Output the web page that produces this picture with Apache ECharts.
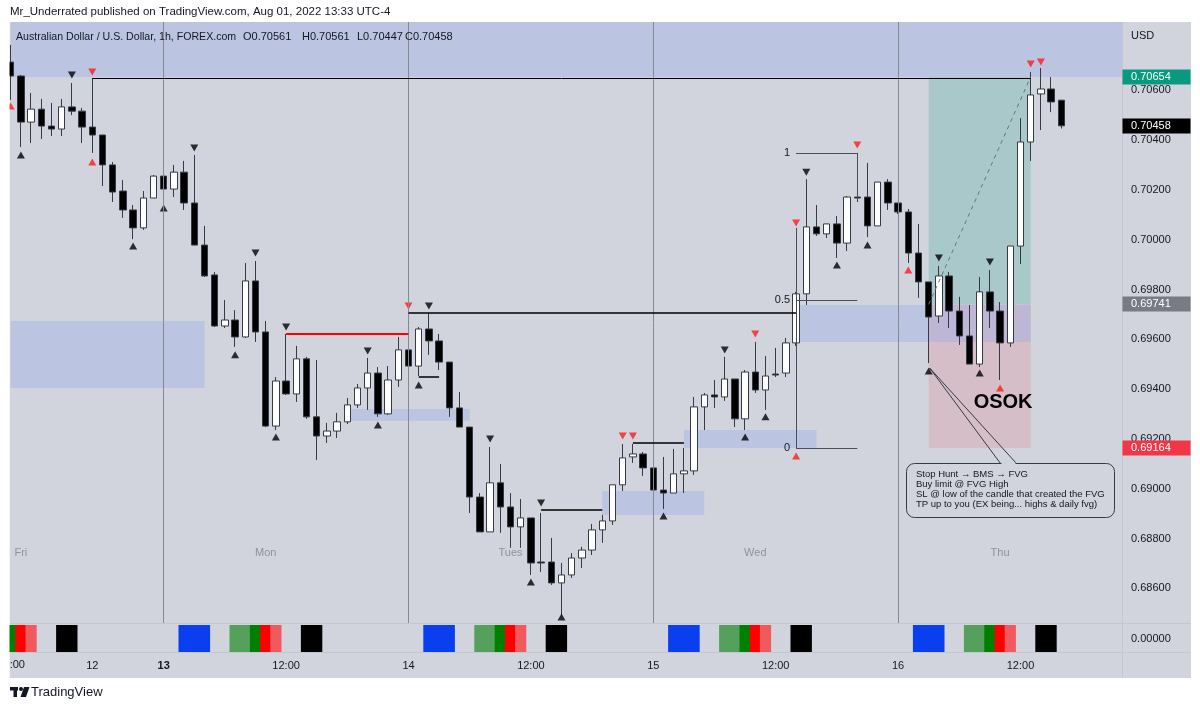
<!DOCTYPE html>
<html><head><meta charset="utf-8">
<script src="https://cdn.jsdelivr.net/npm/echarts@6/dist/echarts.min.js"></script>
<style>html,body{margin:0;padding:0;background:#fff}#c{width:1200px;height:708px}</style>
</head><body><div id="c"></div><script>
// ---------- DATA ----------
const opens = [0.70714,0.70658,0.70473,0.70525,0.70457,0.70445,0.70534,0.70517,0.70453,0.70421,
0.70301,0.70196,0.70120,0.70048,0.70168,0.70256,0.70204,0.70272,0.70148,0.69979,
0.69859,0.69654,0.69678,0.69610,0.69835,0.69630,0.69252,0.69433,0.69381,0.69522,
0.69289,0.69212,0.69232,0.69269,0.69337,0.69405,0.69465,0.69301,0.69437,0.69558,
0.69493,0.69642,0.69594,0.69509,0.69325,0.69248,0.68967,0.68827,0.69024,0.68927,
0.68847,0.68883,0.68706,0.68706,0.68622,0.68654,0.68722,0.68754,0.68835,0.68871,
0.69016,0.69128,0.69140,0.69084,0.68995,0.68983,0.69060,0.69072,0.69329,0.69377,
0.69369,0.69441,0.69281,0.69469,0.69397,0.69461,0.69465,0.69586,0.69783,0.70052,
0.70024,0.70064,0.69987,0.70172,0.70172,0.70056,0.70232,0.70148,0.70112,0.69947,
0.69831,0.69694,0.69855,0.69714,0.69614,0.69501,0.69791,0.69714,0.69586,0.69975,
0.70393,0.70586,0.70606,0.70561];
const highs = [0.70783,0.70662,0.70590,0.70566,0.70550,0.70566,0.70630,0.70530,0.70650,0.70421,
0.70313,0.70240,0.70140,0.70196,0.70260,0.70272,0.70301,0.70317,0.70341,0.70056,
0.69871,0.69758,0.69718,0.69907,0.69915,0.69674,0.69449,0.69622,0.69574,0.69530,
0.69517,0.69265,0.69305,0.69365,0.69421,0.69526,0.69489,0.69493,0.69610,0.69694,
0.69650,0.69706,0.69622,0.69509,0.69389,0.69248,0.68983,0.69168,0.69100,0.68983,
0.68959,0.68883,0.68903,0.68803,0.68702,0.68742,0.68767,0.68859,0.68895,0.69016,
0.69180,0.69180,0.69148,0.69084,0.69128,0.69160,0.69164,0.69369,0.69385,0.69437,
0.69530,0.69441,0.69477,0.69590,0.69533,0.69566,0.69606,0.69791,0.70244,0.70140,
0.70064,0.70096,0.70176,0.70349,0.70309,0.70232,0.70244,0.70148,0.70124,0.70064,
0.69831,0.69895,0.69871,0.69771,0.69738,0.69851,0.69879,0.69750,0.69975,0.70489,
0.70674,0.70690,0.70654,0.70561];
const lows = [0.70562,0.70373,0.70389,0.70405,0.70417,0.70417,0.70501,0.70389,0.70349,0.70216,
0.70152,0.70088,0.70003,0.70040,0.70168,0.70160,0.70172,0.70120,0.69979,0.69851,
0.69650,0.69646,0.69570,0.69606,0.69590,0.69248,0.69236,0.69377,0.69349,0.69281,
0.69116,0.69184,0.69204,0.69260,0.69325,0.69317,0.69289,0.69297,0.69409,0.69465,
0.69453,0.69538,0.69477,0.69289,0.69248,0.68903,0.68827,0.68827,0.68823,0.68763,
0.68763,0.68654,0.68666,0.68614,0.68493,0.68642,0.68682,0.68734,0.68783,0.68855,
0.68991,0.69104,0.69052,0.68943,0.68919,0.68983,0.68983,0.69056,0.69236,0.69325,
0.69353,0.69248,0.69236,0.69385,0.69317,0.69449,0.69449,0.69574,0.69738,0.70016,
0.70007,0.69927,0.69955,0.70152,0.70011,0.70056,0.70120,0.70104,0.69907,0.69767,
0.69505,0.69666,0.69646,0.69578,0.69501,0.69489,0.69646,0.69437,0.69570,0.69903,
0.70317,0.70441,0.70513,0.70447];
const closes = [0.70658,0.70473,0.70525,0.70457,0.70445,0.70534,0.70517,0.70453,0.70421,0.70301,
0.70192,0.70120,0.70048,0.70168,0.70256,0.70204,0.70272,0.70148,0.69979,0.69855,
0.69654,0.69678,0.69610,0.69835,0.69630,0.69252,0.69433,0.69381,0.69522,0.69289,
0.69212,0.69232,0.69269,0.69337,0.69405,0.69465,0.69301,0.69437,0.69558,0.69493,
0.69642,0.69594,0.69509,0.69325,0.69248,0.68967,0.68827,0.69024,0.68927,0.68847,
0.68883,0.68702,0.68702,0.68622,0.68654,0.68722,0.68754,0.68835,0.68871,0.69016,
0.69124,0.69140,0.69084,0.68995,0.68983,0.69060,0.69072,0.69329,0.69377,0.69369,
0.69441,0.69281,0.69469,0.69397,0.69453,0.69457,0.69586,0.69783,0.70052,0.70024,
0.70064,0.69987,0.70172,0.70168,0.70056,0.70232,0.70148,0.70112,0.69947,0.69831,
0.69690,0.69855,0.69714,0.69614,0.69501,0.69791,0.69714,0.69586,0.69975,0.70393,
0.70582,0.70606,0.70554,0.70458];

// session strip codes per bar: 0 none,1 blue,2 light green,3 green,4 red,5 light red,6 black
const sessionCodes = [3,4,5,0,0,6,6,0,0,0,0,0,0,0,0,0,0,1,1,1,0,0,2,2,3,4,5,0,0,6,6,
0,0,0,0,0,0,0,0,0,0,1,1,1,0,0,2,2,3,4,5,0,0,6,6,
0,0,0,0,0,0,0,0,0,0,1,1,1,0,0,2,2,3,4,5,0,0,6,6,
0,0,0,0,0,0,0,0,0,0,1,1,1,0,0,2,2,3,4,5,0,0,6,6,0];

// pivot triangles [barIndex, price]
const blackUp = [[1,0.70341],[12,0.69975],[15,0.70128],[22,0.69538],[26,0.69208],[36,0.69256],[40,0.69417],[51,0.68626],[54,0.68485],[64,0.68891],[72,0.69208],[74,0.69289],[81,0.69899],[84,0.69979],[90,0.69473],[95,0.69465]];
const blackDown = [[6,0.70662],[18,0.70369],[24,0.69947],[27,0.69650],[35,0.69554],[41,0.69734],[47,0.69200],[52,0.68943],[70,0.69558],[78,0.70272],[91,0.69927],[96,0.69911]];
const redUp = [[0,0.70538],[8,0.70313],[77,0.69132],[88,0.69879],[97,0.69405]];
const redDown = [[8,0.70674],[39,0.69734],[60,0.69212],[61,0.69212],[73,0.69622],[77,0.70068],[83,0.70381],[100,0.70706],[101,0.70714]];

// tick labels
const priceTicks = [0.686,0.688,0.690,0.692,0.694,0.696,0.698,0.700,0.702,0.704,0.706];
const timeLabelIdx = [8,15,27,39,51,63,75,87,99];
const timeLabelText = ['12','13','12:00','14','12:00','15','12:00','16','12:00'];
const boldTimeIdx = [15];
const dayLineIdx = [15,39,63,87];
const sessionNameIdx = [1,25,49,73,97];
const sessionNames = ['Fri','Mon','Tues','Wed','Thu'];

// drawings in data units: [fromBar, toBar, priceA, priceB]
const fvgZones = [[0,19,0.69674,0.69405],[33,45,0.69321,0.69273],[58,68,0.68991,0.68895],[66,79,0.69236,0.69164],[77,100,0.69738,0.69590]];
const supplyBand = [0.70654, 0.70875];
const position = {from:90, to:100, entry:0.69741, target:0.70654, stop:0.69164};
const structureLines = [[8,100,0.70650],[39,77,0.69706],[40,42,0.69449],[52,58,0.68915],[61,66,0.69184]];
const redLine = [27,39,0.69622];
const fib = {from:77, to:83, levels:[1,0.5,0], p1:0.70349, p0:0.69164};
const lastPrice = 0.70458;
const header = {sym:'Australian Dollar / U.S. Dollar, 1h, FOREX.com', o:'O0.70561', h:'H0.70561', l:'L0.70447', c:'C0.70458'};

// ---------- CHART ----------
const chart = echarts.init(document.getElementById('c'), null, {renderer:'canvas', width:1200, height:708});
const FONT = '"Liberation Sans", Arial, sans-serif';
const TXT = '#131722';
const BG = '#d1d4dc';
const GL = 10.7, GT = 22, GW = 1111.8, GH = 601, IT = 625, IH = 27;
const Y_MIN = 0.68461, Y_MAX = 0.70875;
const slots = Array.from({length:110}, (_, i) => String(i));
const sessionColors = ['', '#0a3ff0', '#55a05a', '#008000', '#ff0000', '#f05a5f', '#000000'];
const BLUE = 'rgba(140,165,240,0.32)';

const areas = [];
areas.push([{xAxis:position.from, yAxis:position.target, itemStyle:{color:'rgba(8,153,129,0.2)'}},{xAxis:position.to, yAxis:position.entry}]);
areas.push([{xAxis:position.from, yAxis:position.entry, itemStyle:{color:'rgba(242,54,69,0.14)'}},{xAxis:position.to, yAxis:position.stop}]);
areas.push([{yAxis:supplyBand[0], itemStyle:{color:BLUE}},{yAxis:supplyBand[1]}]);
fvgZones.forEach(z => areas.push([{xAxis:z[0], yAxis:z[2], itemStyle:{color:BLUE}},{xAxis:z[1], yAxis:z[3]}]));

const segs = [];
dayLineIdx.forEach(d => segs.push({xAxis:d, lineStyle:{color:'#868993', width:1, type:'solid'}}));
structureLines.forEach(s => segs.push([{coord:[s[0],s[2]], lineStyle:{color:'#000', width:s[0]===8?1:1.5, type:'solid'}},{coord:[s[1],s[2]]}]));
segs.push([{coord:[redLine[0],redLine[2]], lineStyle:{color:'#ff0000', width:2, type:'solid'}},{coord:[redLine[1],redLine[2]]}]);
const fibPrice = lv => fib.p0 + (fib.p1 - fib.p0) * lv;
fib.levels.forEach(lv => segs.push([{coord:[fib.from,fibPrice(lv)], lineStyle:{color:'#4a4d55', width:1, type:'solid'}},{coord:[fib.to,fibPrice(lv)]}]));
segs.push([{coord:[fib.from,0.70048], lineStyle:{color:'#4a4d55', width:1, type:'solid'}},{coord:[fib.from,fib.p0]}]);
segs.push([{coord:[fib.to,fib.p1], lineStyle:{color:'#4a4d55', width:1, type:'solid'}},{coord:[fib.to,0.70160]}]);
segs.push([{coord:[position.from,position.entry], lineStyle:{color:'#6f727c', width:1, type:[4,4]}},{coord:[position.to,position.target]}]);

const tri = (data, color, rot) => ({type:'scatter', xAxisIndex:0, yAxisIndex:0, symbol:'triangle', symbolSize:[8,7], symbolRotate:rot, data, itemStyle:{color}, z:4, silent:true});

const option = {
  backgroundColor:'#ffffff',
  animation:false,
  grid:[{left:GL, top:GT, width:GW, height:GH},{left:GL, top:IT, width:GW, height:IH}],
  xAxis:[
    {type:'category', gridIndex:0, data:slots, boundaryGap:false, axisLine:{show:false}, axisTick:{show:false}, axisLabel:{show:false}, splitLine:{show:false}},
    {type:'category', gridIndex:1, data:slots, boundaryGap:false, axisLine:{show:false}, axisTick:{show:false}, splitLine:{show:false},
      axisLabel:{interval:(idx)=>timeLabelIdx.indexOf(idx)>=0,
        formatter:(v,idx)=>{const k=timeLabelIdx.indexOf(idx); if(k<0) return ''; const t=timeLabelText[k]; return boldTimeIdx.indexOf(idx)>=0?'{b|'+t+'}':t;},
        color:TXT, fontSize:11, fontFamily:FONT, margin:8,
        rich:{b:{fontWeight:'bold', fontSize:11, fontFamily:FONT, color:TXT}}}}
  ],
  yAxis:[
    {type:'value', gridIndex:0, position:'right', min:Y_MIN, max:Y_MAX, splitLine:{show:false}, axisLine:{show:false}, axisTick:{show:false},
      axisLabel:{customValues:priceTicks, formatter:v=>v.toFixed(5), color:TXT, fontSize:11, fontFamily:FONT, margin:8.5}},
    {type:'value', gridIndex:1, position:'right', min:0, max:1, splitLine:{show:false}, axisLine:{show:false}, axisTick:{show:false},
      axisLabel:{customValues:[0.5], formatter:()=>'0.00000', color:TXT, fontSize:11, fontFamily:FONT, margin:8.5}}
  ],
  series:[
    {type:'candlestick', xAxisIndex:0, yAxisIndex:0, barWidth:7, clip:true,
      data: opens.map((o,i)=>[o, closes[i], lows[i], highs[i]]),
      itemStyle:{color:'#ffffff', color0:'#000000', borderColor:'#363a45', borderColor0:'#363a45', borderWidth:1},
      markArea:{silent:true, data:areas},
      markLine:{silent:true, symbol:['none','none'], label:{show:false}, animation:false, data:segs}},
    tri(blackUp,'#000000',0), tri(blackDown,'#000000',180), tri(redUp,'#ff1a1a',0), tri(redDown,'#ff1a1a',180),
    {type:'bar', xAxisIndex:1, yAxisIndex:1, barWidth:11.2, silent:true,
      data: sessionCodes.map(c => c ? {value:1, itemStyle:{color:sessionColors[c]}} : '-')}
  ]
};
chart.setOption(option);

// ---------- ANNOTATIONS ----------
const px = (i,p) => chart.convertToPixel({xAxisIndex:0, yAxisIndex:0}, [i,p]);
function T(x,y,text,st){return {type:'text', x, y, z:60, silent:true, style:Object.assign({text, font:'11px '+FONT, fill:TXT, align:'left', verticalAlign:'middle', textAlign:'left', textVerticalAlign:'middle'}, st||{})};}
function L(x1,y1,x2,y2,stroke,w,z){return {type:'line', z:z||55, silent:true, shape:{x1,y1,x2,y2}, style:{stroke, lineWidth:w||1}};}
const g = [];
g.push({type:'rect', z:-100, silent:true, shape:{x:9.5, y:22, width:1181.5, height:656}, style:{fill:BG}});
g.push({type:'rect', z:200, silent:true, shape:{x:0, y:22, width:9.5, height:656}, style:{fill:'#ffffff'}});
g.push(L(1122.5,22,1122.5,678,'#c4c7cf',1,1));
g.push(L(9.5,623.5,1191,623.5,'#c4c7cf',1,1));
g.push(L(9.5,652.5,1191,652.5,'#c4c7cf',1,1));
// header
g.push(T(10,12,'Mr_Underrated published on TradingView.com, Aug 01, 2022 13:33 UTC-4',{font:'11.5px '+FONT}));
g.push(T(16,37,header.sym,{font:'10.6px '+FONT}));
g.push(T(243,37,header.o)); g.push(T(302,37,header.h)); g.push(T(357,37,header.l)); g.push(T(405,37,header.c));
g.push(T(1131,36,'USD'));
// session names
sessionNames.forEach((s,k)=>{const p=px(sessionNameIdx[k],0.69); g.push(T(p[0],553,s,{fill:'#8f929b', align:'center', textAlign:'center'}));});
g.push(T(GL-1,665,':00'));
// fib labels
fib.levels.forEach(lv=>{const p=px(fib.from,fibPrice(lv)); g.push(T(p[0]-6,p[1],String(lv),{align:'right', textAlign:'right'}));});
// OSOK
{const p=px(97,0.69345); g.push(T(p[0]+3,p[1],'OSOK',{font:'bold 20px '+FONT, align:'center', textAlign:'center', fill:'#000'}));}
// callout
{
  const a = px(position.from, 0.69473);
  g.push({type:'rect', z:56, silent:true, shape:{x:906.5, y:463.5, width:208, height:54, r:8}, style:{fill:BG, stroke:'#363a45', lineWidth:1}});
  g.push(L(a[0]+1,a[1]-3,1000.5,463.5,'#363a45',1,57));
  g.push(L(a[0]+1,a[1]-3,1016.5,463.5,'#363a45',1,57));
  g.push(L(1001.5,463.5,1015.5,463.5,BG,2,58));
  const lines=['Stop Hunt \u2192 BMS \u2192 FVG','Buy limit @ FVG High','SL @ low of the candle that created the FVG','TP up to you (EX being... highs & daily fvg)'];
  lines.forEach((t,k)=>g.push(T(916,474+k*10,t,{font:'9.5px '+FONT})));
}
// price tags
[[position.target,'#089981'],[lastPrice,'#000000'],[position.entry,'#787b86'],[position.stop,'#f23645']].forEach(tg=>{
  const p=px(0,tg[0]);
  g.push({type:'rect', z:70, silent:true, shape:{x:1122.5, y:Math.round(p[1])-7.5, width:68, height:15}, style:{fill:tg[1]}});
  g.push(T(1131,Math.round(p[1]),tg[0].toFixed(5),{fill:'#ffffff'}));
  g[g.length-1].z=71;
});
// TradingView logo
g.push({type:'rect', z:60, silent:true, shape:{x:10, y:687, width:8, height:3.5}, style:{fill:TXT}});
g.push({type:'rect', z:60, silent:true, shape:{x:13.5, y:687, width:3.5, height:10}, style:{fill:TXT}});
g.push({type:'circle', z:60, silent:true, shape:{cx:21, cy:689, r:2}, style:{fill:TXT}});
g.push({type:'polygon', z:60, silent:true, shape:{points:[[24,687],[29.5,687],[26,697],[20.5,697]]}, style:{fill:TXT}});
g.push(T(31,692,'TradingView',{font:'13px '+FONT}));
chart.setOption({graphic:g});
</script></body></html>
